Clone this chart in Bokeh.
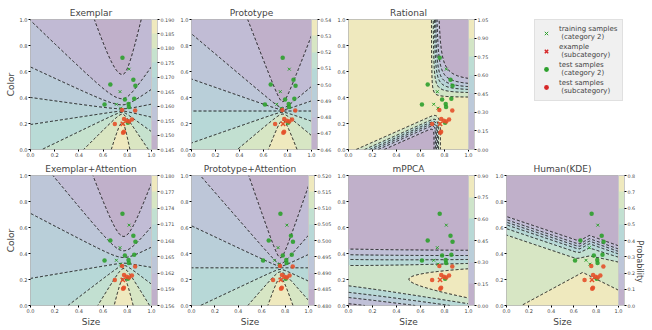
import math
import numpy as np
from bokeh.plotting import figure
from bokeh.models import (ColorBar, LinearColorMapper, FixedTicker, NumeralTickFormatter,
                          Legend, LegendItem, LinearAxis, Range1d)
from bokeh.layouts import row, column
from bokeh.palettes import viridis
from bokeh.embed import file_html
from bokeh.resources import INLINE

FONT = "DejaVu Sans"

# ---------------- data ----------------
test_cat2_x = [0.760, 0.660, 0.850, 0.867, 0.780, 0.857, 0.612, 0.810, 0.813, 0.805]
test_cat2_y = [0.705, 0.500, 0.537, 0.490, 0.385, 0.390, 0.347, 0.350, 0.327, 0.205]
train_cat2_x = [0.815, 0.740, 0.710, 0.745]
train_cat2_y = [0.618, 0.445, 0.348, 0.318]
test_sub_x = [0.757, 0.865, 0.697, 0.773, 0.795, 0.815, 0.838, 0.765, 0.772]
test_sub_y = [0.303, 0.300, 0.197, 0.235, 0.222, 0.215, 0.230, 0.128, 0.136]
example_x = [0.763]
example_y = [0.197]

panel_titles = ["Exemplar", "Prototype", "Rational", "Exemplar+Attention",
                "Prototype+Attention", "mPPCA", "Human(KDE)"]

levels_exemplar = [0.145, 0.150, 0.155, 0.160, 0.165, 0.170, 0.175, 0.180, 0.185, 0.190]
levels_prototype = [0.46, 0.47, 0.48, 0.49, 0.50, 0.51, 0.52, 0.53, 0.54]
levels_rational = [0.00, 0.15, 0.30, 0.45, 0.60, 0.75, 0.90, 1.05]
levels_exemplar_att = [0.156, 0.159, 0.162, 0.165, 0.168, 0.171, 0.174, 0.177, 0.180]
levels_prototype_att = [0.480, 0.485, 0.490, 0.495, 0.500, 0.505, 0.510, 0.515, 0.520]
levels_mppca = [0.00, 0.15, 0.30, 0.45, 0.60, 0.75, 0.90]
levels_human = [0.0, 0.1, 0.2, 0.3, 0.4, 0.5, 0.6, 0.7, 0.8]

axis_ticks = [0.0, 0.2, 0.4, 0.6, 0.8, 1.0]

# model surface parameters (read off the contour shapes)
# center x, center y, left stretch, right stretch, smoothing above, smoothing below
exemplar_geom = [0.76, 0.30, 1.0, 1.5, 0.10, 0.03]
exemplar_scale = [0.1674, 0.0185]
prototype_geom = [0.76, 0.296, 1.0, 1.0, 0.03, 0.03]
prototype_scale = [0.50, 0.0325]
exemplar_att_geom = [0.77, 0.33, 1.0, 1.0, 0.08, 0.03]
exemplar_att_scale = [0.1674, 0.01202, 1.3]
prototype_att_geom = [0.76, 0.29, 1.0, 1.0, 0.03, 0.03]
prototype_att_scale = [0.50, 0.01957]
rational_upper = [0.67, 0.353, 2.4, 0.044, 90.0, 1.0]  # corner x, corner y, y stretch, threshold, sharpness, roundness
rational_lower = [0.735, 0.41, 0.20, 78.0, 43.0]       # edge x, slope, x at y=0, sharpness x, sharpness y
mppca_peak = [0.74, 0.038, 0.122]
mppca_top = [0.374, -0.02, 0.044]
mppca_bottom = [0.08, -0.10, 0.048]
human_upper_x = [0.0, 0.62, 0.655, 0.74, 1.0]
human_upper_y = [0.645, 0.465, 0.46, 0.50, 0.42]
human_mid_x = [0.0, 0.62, 0.74, 1.0]
human_mid_y = [0.55, 0.37, 0.385, 0.35]
human_low_x = [0.0, 0.68, 1.0]
human_low_y = [-0.083, 0.234, 0.097]

# ---------------- surfaces ----------------
gx = np.linspace(0, 1, 181)
gy = np.linspace(0, 1, 181)
X, Y = np.meshgrid(gx, gy)


def sig(z):
    return 1.0 / (1.0 + np.exp(-z))


def polar(geom):
    x0, y0, wl, wr, eu, ed = geom
    dx = X - x0
    dy = Y - y0
    w = np.where(dx < 0, wl, wr)
    e = np.where(dy > 0, eu, ed)
    h = np.sqrt((w * dx) ** 2 + e ** 2)
    s = dy / np.sqrt(h ** 2 + dy ** 2)
    t = np.arctan2(dy, h) / (np.pi / 2)
    return s, t


s, _ = polar(exemplar_geom)
Z_ex = exemplar_scale[0] - exemplar_scale[1] * s

s, _ = polar(prototype_geom)
Z_pr = prototype_scale[0] - prototype_scale[1] * s

_, t = polar(exemplar_att_geom)
Z_exa = exemplar_att_scale[0] - exemplar_att_scale[1] * np.sign(t) * np.abs(t) ** exemplar_att_scale[2]

_, t = polar(prototype_att_geom)
Z_pra = prototype_att_scale[0] - prototype_att_scale[1] * t

cx, cy, ys, thr, k1, nr = rational_upper
ddx = np.maximum(X - cx, 1e-4)
ddy = np.maximum((Y - cy) / ys, 1e-4)
g = (ddx ** -nr + ddy ** -nr) ** (-1.0 / nr)
r1 = sig(k1 * (g - thr))
ex_, sl, x0l, a2, b2 = rational_lower
r2 = sig(a2 * (ex_ - X)) * sig(b2 * (sl * (X - x0l) - Y))
Z_ra = 1.0 - 0.98 * (r1 + r2)

pk = mppca_peak[0] + mppca_peak[1] * X + mppca_peak[2] * X ** 2
T = sig((mppca_top[0] + mppca_top[1] * X - Y) / mppca_top[2])
B = sig((Y - (mppca_bottom[0] + mppca_bottom[1] * X)) / mppca_bottom[2])
Z_mp = pk * T * B

yc = np.interp(X, human_upper_x, human_upper_y)
y6 = np.interp(X, human_mid_x, human_mid_y)
ye = np.interp(X, human_low_x, human_low_y)
Z_hu = 0.55 * sig((yc - Y) / 0.026) + 0.10 * sig((y6 - Y) / 0.02) + 0.15 * sig((ye - Y) / 0.03)


def pale(n, a=0.25, base=(234, 234, 242)):
    out = []
    for c in viridis(n):
        rgb = [int(c[i:i + 2], 16) for i in (1, 3, 5)]
        out.append("#%02x%02x%02x" % tuple(int(round(bb - a * (bb - v))) for v, bb in zip(rgb, base)))
    return out


# ---------------- layout ----------------
FWS = [123, 123, 123, 122]
ROWS = [(15, 134, 11), (15, 133, 21)]
COLS = [(30, 24), (11, 23), (11, 24), (11, 26)]

GREEN = "#2ca02c"
RED_PT = "#e4502a"
RED = "#d62728"


def make_panel(title, Z, levels, fmt, r, c, prob=False):
    top, fh, bot = ROWS[r]
    left, right = COLS[c]
    fw = FWS[c]
    p = figure(width=left + fw + right, height=top + fh + bot,
               x_range=Range1d(0, 1), y_range=Range1d(0, 1),
               toolbar_location=None, output_backend="svg",
               min_border_left=left, min_border_right=right,
               min_border_top=top, min_border_bottom=bot)
    p.title.text = title
    p.title.align = "center"
    p.title.text_font = FONT
    p.title.text_font_size = "9px"
    p.title.text_font_style = "normal"
    p.title.standoff = 3
    p.grid.visible = False
    p.outline_line_color = "#b5b5b5"
    for ax in (p.xaxis, p.yaxis):
        ax.ticker = FixedTicker(ticks=axis_ticks)
        ax.formatter = NumeralTickFormatter(format="0.0")
        ax.major_label_text_font_size = "5px"
        ax.major_label_text_font = FONT
        ax.major_label_standoff = 1
        ax.major_tick_out = 2
        ax.major_tick_in = 0
        ax.minor_tick_out = 0
        ax.minor_tick_in = 0
        ax.axis_line_color = None
        ax.axis_label_text_font = FONT
        ax.axis_label_text_font_size = "9px"
        ax.axis_label_text_font_style = "normal"
        ax.axis_label_standoff = 1
    if c == 0:
        p.yaxis.axis_label = "Color"
    if r == 1:
        p.xaxis.axis_label = "Size"

    cols = pale(len(levels) - 1)
    Zc = np.clip(Z, levels[0] + 1e-6, levels[-1] - 1e-6)
    p.contour(x=gx, y=gy, z=Zc, levels=levels, fill_color=cols,
              line_color="black", line_dash="3 2", line_width=0.9)

    p.scatter(x=train_cat2_x, y=train_cat2_y, marker="x", size=4, line_color=GREEN, line_width=1)
    p.scatter(x=test_cat2_x, y=test_cat2_y, marker="circle", size=4.5, fill_color=GREEN,
              line_color=None, fill_alpha=0.9)
    p.scatter(x=test_sub_x, y=test_sub_y, marker="circle", size=4.5, fill_color=RED_PT,
              line_color=None, fill_alpha=0.9)
    p.scatter(x=example_x, y=example_y, marker="x", size=6, line_color=RED_PT, line_width=1.5)

    mapper = LinearColorMapper(palette=cols, low=levels[0], high=levels[-1])
    cb = ColorBar(color_mapper=mapper, ticker=FixedTicker(ticks=levels),
                  formatter=NumeralTickFormatter(format=fmt), width=6,
                  padding=0, margin=0, label_standoff=1,
                  major_tick_in=0, major_tick_out=2, major_tick_line_color="black",
                  major_label_text_font_size="4.8px", major_label_text_font=FONT,
                  bar_line_color="#c8c8c8", border_line_color=None,
                  background_fill_alpha=0)
    p.add_layout(cb, "right")
    if prob:
        ax = LinearAxis(axis_label="Probability", ticker=FixedTicker(ticks=[]),
                        axis_line_color=None, major_tick_line_color=None,
                        minor_tick_line_color=None, axis_label_standoff=1,
                        axis_label_text_font=FONT, axis_label_text_font_size="8px",
                        axis_label_text_font_style="normal",
                        axis_label_orientation=-math.pi / 2)
        p.add_layout(ax, "right")
    return p


p1 = make_panel(panel_titles[0], Z_ex, levels_exemplar, "0.000", 0, 0)
p2 = make_panel(panel_titles[1], Z_pr, levels_prototype, "0.00", 0, 1)
p3 = make_panel(panel_titles[2], Z_ra, levels_rational, "0.00", 0, 2)
p4 = make_panel(panel_titles[3], Z_exa, levels_exemplar_att, "0.000", 1, 0)
p5 = make_panel(panel_titles[4], Z_pra, levels_prototype_att, "0.000", 1, 1)
p6 = make_panel(panel_titles[5], Z_mp, levels_mppca, "0.00", 1, 2)
p7 = make_panel(panel_titles[6], Z_hu, levels_human, "0.0", 1, 3, prob=True)

# legend panel: glyph renderers hold the real samples but sit outside the visible range
top, fh, bot = ROWS[0]
lw = COLS[3][0] + FWS[3] + COLS[3][1]
lg = figure(width=lw, height=top + fh + bot, x_axis_type=None, y_axis_type=None,
            toolbar_location=None, output_backend="svg",
            min_border_left=42, min_border_top=19, min_border_right=0, min_border_bottom=0,
            x_range=Range1d(10, 11), y_range=Range1d(10, 11))
lg.outline_line_color = None
lg.grid.visible = False
ra = lg.scatter(x=train_cat2_x, y=train_cat2_y, marker="x", size=4,
                line_color=GREEN, line_width=1)
rb = lg.scatter(x=example_x, y=example_y, marker="x", size=6,
                line_color=RED, line_width=1.5)
rc = lg.scatter(x=test_cat2_x, y=test_cat2_y, marker="circle", size=4.5,
                fill_color=GREEN, line_color=None)
rd = lg.scatter(x=test_sub_x, y=test_sub_y, marker="circle", size=4.5,
                fill_color=RED, line_color=None)
legend = Legend(items=[
    LegendItem(label="training samples\n (category 2)", renderers=[ra]),
    LegendItem(label="example\n (subcategory)", renderers=[rb]),
    LegendItem(label="test samples\n (category 2)", renderers=[rc]),
    LegendItem(label="test samples\n (subcategory)", renderers=[rd]),
], location="top_left")
legend.margin = 0
legend.padding = 5
legend.spacing = 2
legend.glyph_width = 12
legend.glyph_height = 12
legend.label_height = 14
legend.label_standoff = 7
legend.label_text_font = FONT
legend.label_text_font_size = "7px"
legend.label_text_line_height = 1.1
legend.background_fill_color = "#f0f0f0"
legend.background_fill_alpha = 1
legend.border_line_color = "#cfcfcf"
lg.add_layout(legend)

layout = column(row(p1, p2, p3, lg), row(p4, p5, p6, p7))

with open("out.html", "w") as f:
    f.write(file_html(layout, INLINE))
